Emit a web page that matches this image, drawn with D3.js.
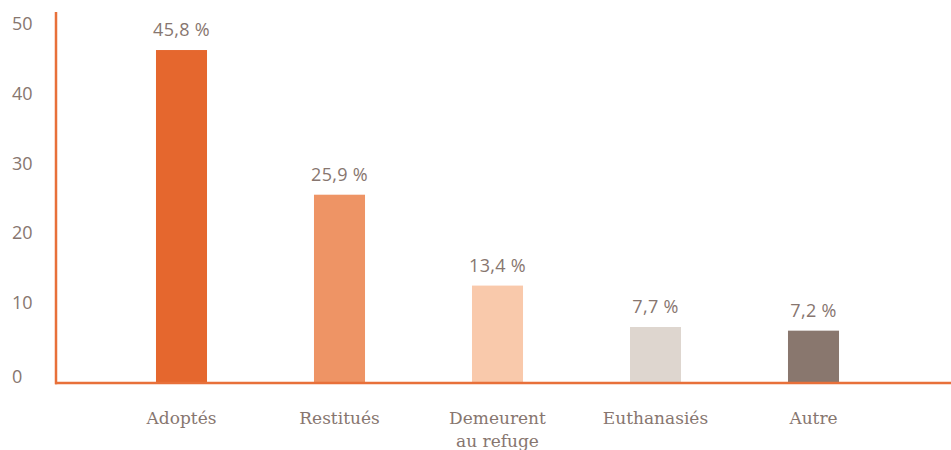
<!DOCTYPE html>
<html>
<head>
<meta charset="utf-8">
<script src="https://cdn.jsdelivr.net/npm/d3@7"></script>
<style>
  body { margin: 0; background: #fff; }
  svg { display: block; }
</style>
</head>
<body>
<svg id="chart"></svg>
<script>
let categories = [["Adoptés"], ["Restitués"], ["Demeurent", "au refuge"], ["Euthanasiés"], ["Autre"]];
let values = [45.8, 25.9, 13.4, 7.7, 7.2];
let valueLabels = ["45,8 %", "25,9 %", "13,4 %", "7,7 %", "7,2 %"];
let colors = ["#e5672e", "#ee9465", "#f9c9ab", "#ded6cf", "#89776e"];
let ticks = [0, 10, 20, 30, 40, 50];

let width = 951, height = 450;
let textColor = "#87766f";
let axisColor = "#e8703a";

let svg = d3.select("#chart")
    .attr("width", width)
    .attr("height", height);

let keys = categories.map(function (d) { return d.join(" "); });

let x = d3.scaleBand()
    .domain(keys)
    .range([102.5, 892.5])
    .paddingInner(0.677)
    .paddingOuter(0.3385);

// bars scale
let y = d3.scaleLinear()
    .domain([0, 50])
    .range([383, 19.5]);

// tick label scale (labels sit slightly off the bar scale in the original)
let yLab = d3.scaleLinear()
    .domain([0, 50])
    .range([372.5, 24]);

svg.selectAll(".bar")
    .data(values)
    .enter()
    .append("rect")
    .attr("class", "bar")
    .attr("x", function (d, i) { return x(keys[i]); })
    .attr("y", function (d) { return y(d); })
    .attr("width", x.bandwidth())
    .attr("height", function (d) { return y(0) - y(d); })
    .style("fill", function (d, i) { return colors[i]; });

svg.selectAll(".val")
    .data(values)
    .enter()
    .append("text")
    .attr("class", "val")
    .attr("x", function (d, i) { return x(keys[i]) + x.bandwidth() / 2; })
    .attr("y", function (d) { return y(d) - 14; })
    .attr("text-anchor", "middle")
    .style("font-family", "'Open Sans', sans-serif")
    .style("font-size", "18px")
    .style("letter-spacing", "0.3px")
    .style("fill", textColor)
    .text(function (d, i) { return valueLabels[i]; });

// y tick labels
svg.selectAll(".tick-label")
    .data(ticks)
    .enter()
    .append("text")
    .attr("class", "tick-label")
    .attr("x", 12)
    .attr("y", function (d) { return d === 0 ? yLab(d) + 4.5 : yLab(d); })
    .attr("dy", "0.35em")
    .style("font-family", "'Open Sans', sans-serif")
    .style("font-size", "18px")
    .style("fill", textColor)
    .text(function (d) { return d; });

// axes lines
svg.append("line")
    .attr("x1", 56).attr("x2", 56)
    .attr("y1", 12).attr("y2", y(0) + 1.2)
    .style("stroke", axisColor)
    .style("stroke-width", 2.5);
svg.append("line")
    .attr("x1", 55).attr("x2", width)
    .attr("y1", y(0)).attr("y2", y(0))
    .style("stroke", axisColor)
    .style("stroke-width", 2.5);

// category labels
let cat = svg.selectAll(".cat")
    .data(categories)
    .enter()
    .append("text")
    .attr("class", "cat")
    .attr("x", function (d, i) { return x(keys[i]) + x.bandwidth() / 2; })
    .attr("y", 424)
    .attr("text-anchor", "middle")
    .style("font-family", "'DejaVu Serif', serif")
    .style("font-size", "17px")
    .style("fill", textColor);

cat.selectAll("tspan")
    .data(function (d) { return d; })
    .enter()
    .append("tspan")
    .attr("x", function () { return d3.select(this.parentNode).attr("x"); })
    .attr("dy", function (d, i) { return i === 0 ? 0 : 23; })
    .text(function (d) { return d; });
</script>
</body>
</html>
